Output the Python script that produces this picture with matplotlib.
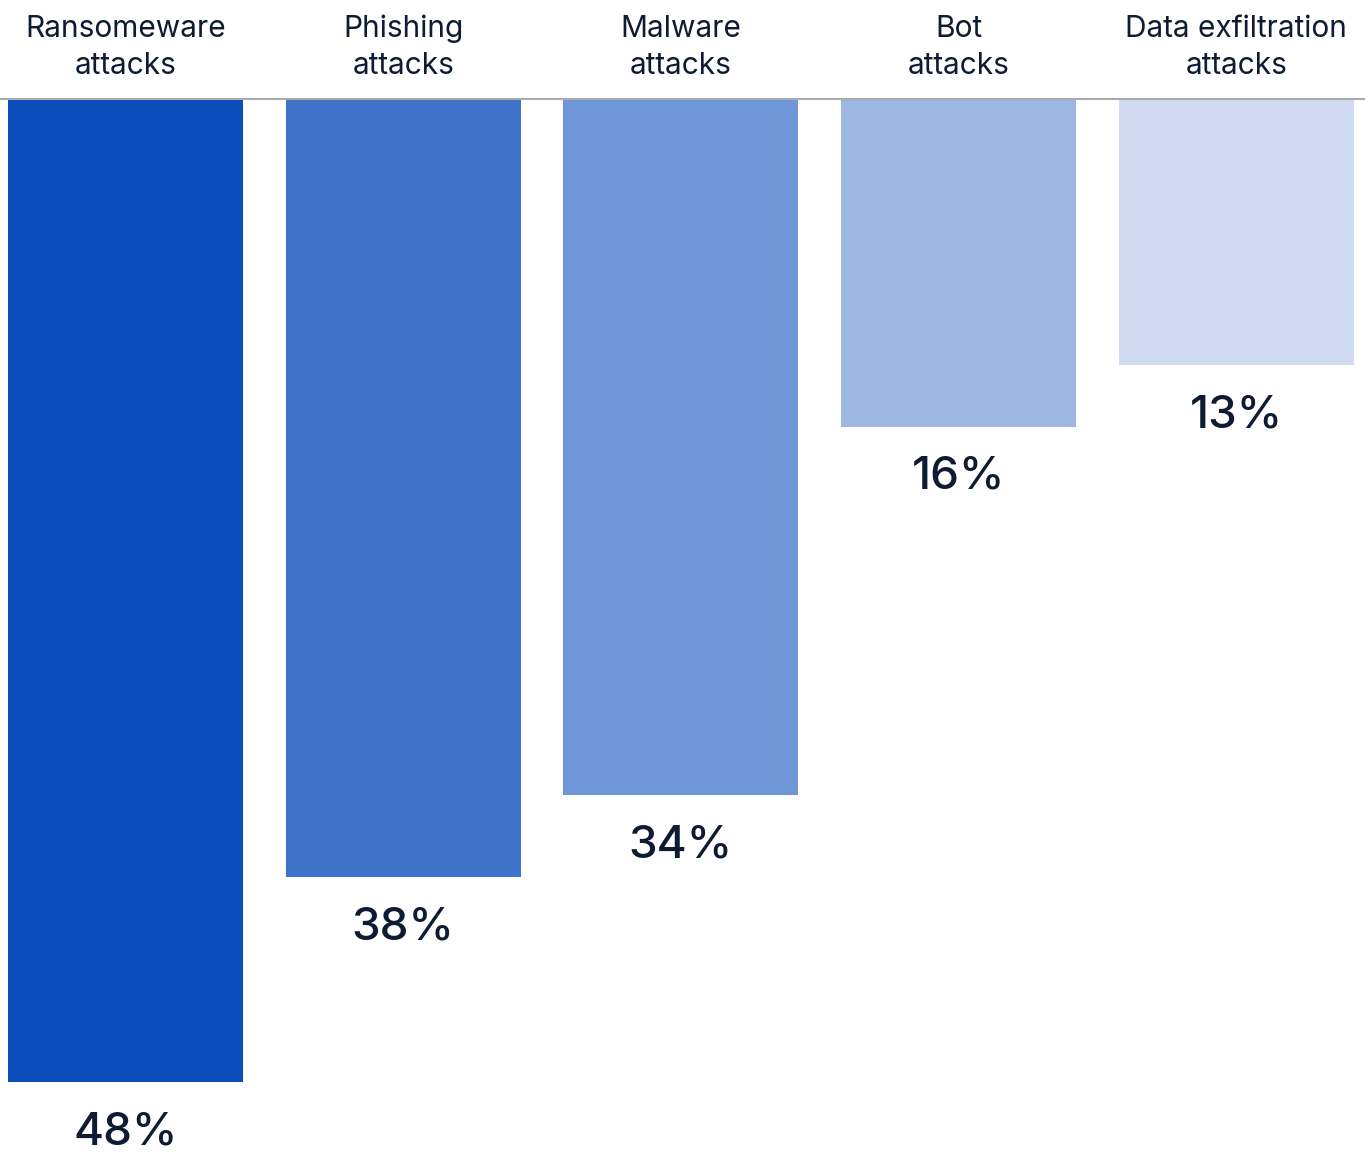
import matplotlib
matplotlib.use("Agg")
import matplotlib.pyplot as plt

categories = ["Ransomeware\nattacks", "Phishing\nattacks", "Malware\nattacks",
              "Bot\nattacks", "Data exfiltration\nattacks"]
values = [48, 38, 34, 16, 13]
colors = ["#0B4DBA", "#3F72C9", "#6F96D7", "#9DB7E3", "#D0DBF1"]
text_color = "#0D1B33"

plt.rcParams['font.family'] = ['Inter', 'DejaVu Sans']

fig = plt.figure(figsize=(13.65, 11.6), dpi=100)
ax = fig.add_axes([0, 0, 1, 1 - 99 / 1160])

x = range(len(values))
ax.bar(x, values, width=0.846, color=colors, bottom=0)
ax.set_xlim(-0.452, 4.463)
ax.set_ylim(51.8, 0)

for i, v in enumerate(values):
    ax.annotate(f"{v}%", (i, v), xytext=(0, -50), textcoords="offset pixels",
                ha="center", va="center", fontsize=33, fontweight="medium",
                color=text_color)
    ax.annotate(categories[i], (i, 0), xytext=(0, 19), textcoords="offset pixels",
                ha="center", va="bottom", fontsize=21.5, color=text_color,
                linespacing=1.42)

ax.axhline(0, color="#AAAAAA", linewidth=1.5, clip_on=False)
for s in ax.spines.values():
    s.set_visible(False)
ax.set_xticks([])
ax.set_yticks([])

fig.savefig("out.png", dpi=100)
